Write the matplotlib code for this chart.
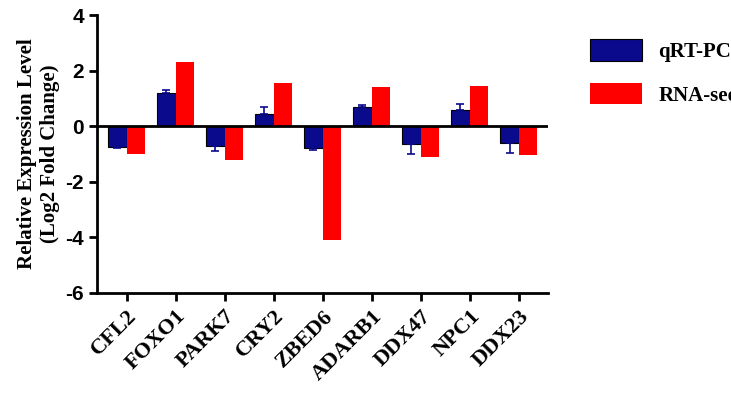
import numpy as np
import matplotlib.pyplot as plt

plt.rcParams['font.family'] = 'Liberation Serif'
plt.rcParams['font.weight'] = 'bold'
plt.rcParams['axes.unicode_minus'] = False

genes = ['CFL2', 'FOXO1', 'PARK7', 'CRY2', 'ZBED6', 'ADARB1', 'DDX47', 'NPC1', 'DDX23']
qrt = [-0.75, 1.2, -0.7, 0.45, -0.8, 0.7, -0.65, 0.6, -0.6]
qrt_err = [0.05, 0.1, 0.2, 0.25, 0.05, 0.08, 0.35, 0.2, 0.35]
rnaseq = [-1.0, 2.3, -1.2, 1.55, -4.1, 1.4, -1.1, 1.45, -1.05]

fig = plt.figure(figsize=(7.31, 4.0), dpi=100)
ax = fig.add_axes([0.133, 0.2675, 0.617, 0.695])

x = np.arange(len(genes))
w = 0.38
ax.bar(x - w / 2, qrt, w, color='#0a0a8c', edgecolor='black', linewidth=0.8,
       yerr=[[e if v < 0 else 0 for v, e in zip(qrt, qrt_err)],
             [e if v > 0 else 0 for v, e in zip(qrt, qrt_err)]],
       error_kw=dict(ecolor='#0a0a8c', capsize=3, elinewidth=1.2, capthick=1.2),
       label='qRT-PCR')
ax.bar(x + w / 2, rnaseq, w, color='#ff0000', label='RNA-seq')
ax.axhline(0, color='black', linewidth=2)

ax.set_ylim(-6, 4)
ax.set_xlim(-0.6, len(genes) - 0.4)
ax.set_yticks([-6, -4, -2, 0, 2, 4])
ax.set_xticks(x)
ax.set_xticklabels(genes, rotation=45, ha='right', rotation_mode='anchor', fontsize=16)
for lbl in ax.get_yticklabels():
    lbl.set_family('Liberation Sans')
ax.tick_params(axis='y', labelsize=15, width=2, length=6)
ax.tick_params(axis='x', width=2, length=6)
ax.spines['top'].set_visible(False)
ax.spines['right'].set_visible(False)
ax.spines['left'].set_linewidth(2)
ax.spines['bottom'].set_linewidth(2)
ax.set_ylabel('Relative Expression Level\n(Log2 Fold Change)', fontsize=15, fontweight='bold')

ax.legend(loc='upper left', bbox_to_anchor=(1.05, 0.98), frameon=False, fontsize=15,
          handlelength=2.5, handleheight=1.2, labelspacing=1.0)

fig.savefig('out.png', dpi=100)
